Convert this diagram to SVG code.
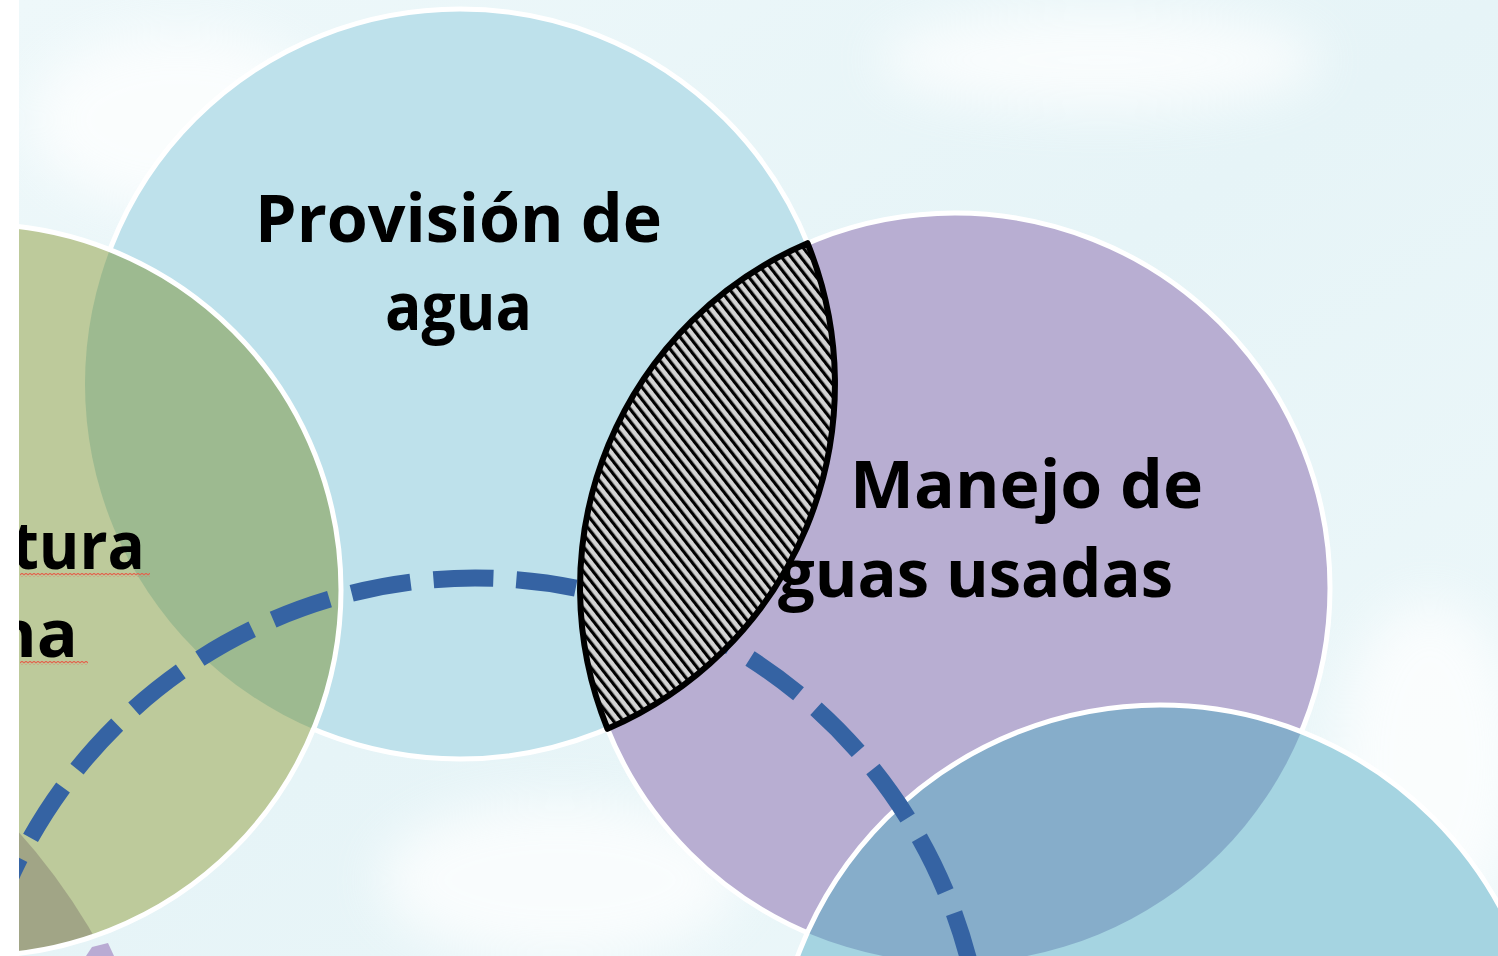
<svg xmlns="http://www.w3.org/2000/svg" width="1498" height="956" viewBox="0 0 1498 956">
  <style>
    .lbl { font-family: "Open Sans", "Liberation Sans", sans-serif; font-weight: 700; font-size: 67px; fill: #000; }
    .ring { fill: none; stroke: #ffffff; stroke-width: 5; }
    .dash { fill: none; stroke: #3563a3; stroke-width: 17; stroke-dasharray: 60 23; stroke-dashoffset: 45.5; }
  </style>
  <defs>
    <linearGradient id="bgGrad" x1="0" y1="0" x2="1" y2="1">
      <stop offset="0" stop-color="#eef8fa"/>
      <stop offset="0.5" stop-color="#e6f4f7"/>
      <stop offset="1" stop-color="#eef8fa"/>
    </linearGradient>
    <filter id="soft" x="-50%" y="-50%" width="200%" height="200%">
      <feGaussianBlur stdDeviation="25"/>
    </filter>
    <clipPath id="clipGreen"><circle cx="-25" cy="590" r="366"/></clipPath>
    <clipPath id="clipPurple"><circle cx="955" cy="588" r="375"/></clipPath>
    <pattern id="hatch" width="7.6" height="7.6" patternUnits="userSpaceOnUse" patternTransform="rotate(-38)">
      <rect width="7.6" height="7.6" fill="#d4d4d4"/>
      <rect width="3.2" height="7.6" fill="#000000"/>
    </pattern>
    <pattern id="squig" width="4" height="4" patternUnits="userSpaceOnUse">
      <polyline points="0,3 2,1 4,3" fill="none" stroke="#e2654f" stroke-width="1.2"/>
    </pattern>
  </defs>

  <!-- background -->
  <g id="background">
    <rect x="0" y="0" width="1498" height="956" fill="#ffffff"/>
    <rect x="19" y="0" width="1479" height="956" fill="url(#bgGrad)"/>
    <g filter="url(#soft)" fill="#ffffff" opacity="0.75">
      <ellipse cx="560" cy="880" rx="180" ry="80"/>
      <ellipse cx="180" cy="120" rx="150" ry="90"/>
      <ellipse cx="1430" cy="760" rx="90" ry="160"/>
      <ellipse cx="1100" cy="60" rx="220" ry="50"/>
    </g>
  </g>

  <!-- Provisión de agua circle -->
  <g id="node-provision">
    <circle cx="460" cy="384" r="375" fill="#bee1eb"/>
    <circle class="ring" cx="460" cy="384" r="375"/>
  </g>

  <!-- purple circle: Manejo de aguas usadas -->
  <g id="node-manejo">
    <circle cx="955" cy="588" r="375" fill="#b8aed2"/>
    <circle class="ring" cx="955" cy="588" r="375"/>
  </g>

  <!-- small purple sliver bottom-left -->
  <g id="node-bottom-left">
    <path d="M86 956 L92 947 L108 943 L114 956 Z" fill="#b9abd3"/>
  </g>

  <!-- green circle (left) -->
  <g id="node-left">
    <circle cx="-25" cy="590" r="366" fill="#bdca9b"/>
    <circle cx="460" cy="384" r="375" fill="#9dba90" clip-path="url(#clipGreen)"/>
    <circle cx="-450" cy="1250" r="628" fill="#a1a586" clip-path="url(#clipGreen)"/>
    <circle class="ring" cx="-25" cy="590" r="366"/>
  </g>

  <!-- cyan circle bottom-right -->
  <g id="node-bottom-right">
    <circle cx="1160" cy="1092" r="387" fill="#a5d4e1"/>
    <circle cx="1160" cy="1092" r="387" fill="#86adca" clip-path="url(#clipPurple)"/>
    <circle class="ring" cx="1160" cy="1092" r="387"/>
  </g>

  <!-- dashed connector circle -->
  <g id="connectors">
    <path class="dash" d="M985 1088 A510 510 0 1 1 -35 1088 A510 510 0 1 1 985 1088"/>
  </g>

  <!-- labels -->
  <g id="labels">
    <text class="lbl" x="255" y="242" textLength="407" lengthAdjust="spacingAndGlyphs">Provisión de</text>
    <text class="lbl" x="385" y="330" textLength="147" lengthAdjust="spacingAndGlyphs">agua</text>
    <text class="lbl" x="850" y="508" textLength="353" lengthAdjust="spacingAndGlyphs">Manejo de</text>
    <text class="lbl" x="778" y="597" textLength="395" lengthAdjust="spacingAndGlyphs">guas usadas</text>
    <text class="lbl" x="12" y="569" textLength="133" lengthAdjust="spacingAndGlyphs">tura</text>
    <text class="lbl" x="-8" y="657" textLength="86" lengthAdjust="spacingAndGlyphs">na</text>
  </g>

  <!-- hatched lens (intersection) -->
  <g id="node-intersection">
    <path d="M807.5 243.2 A375 375 0 0 1 607.5 728.8 A375 375 0 0 1 807.5 243.2 Z" fill="url(#hatch)" stroke="#000000" stroke-width="6" stroke-linejoin="round"/>
  </g>

  <!-- left white margin -->
  <rect id="margin" x="0" y="0" width="19" height="956" fill="#ffffff"/>

  <!-- spell-check squiggles -->
  <g id="squiggles">
    <rect x="20" y="573" width="130" height="4" fill="url(#squig)"/>
    <rect x="20" y="661" width="68" height="4" fill="url(#squig)"/>
  </g>
</svg>
